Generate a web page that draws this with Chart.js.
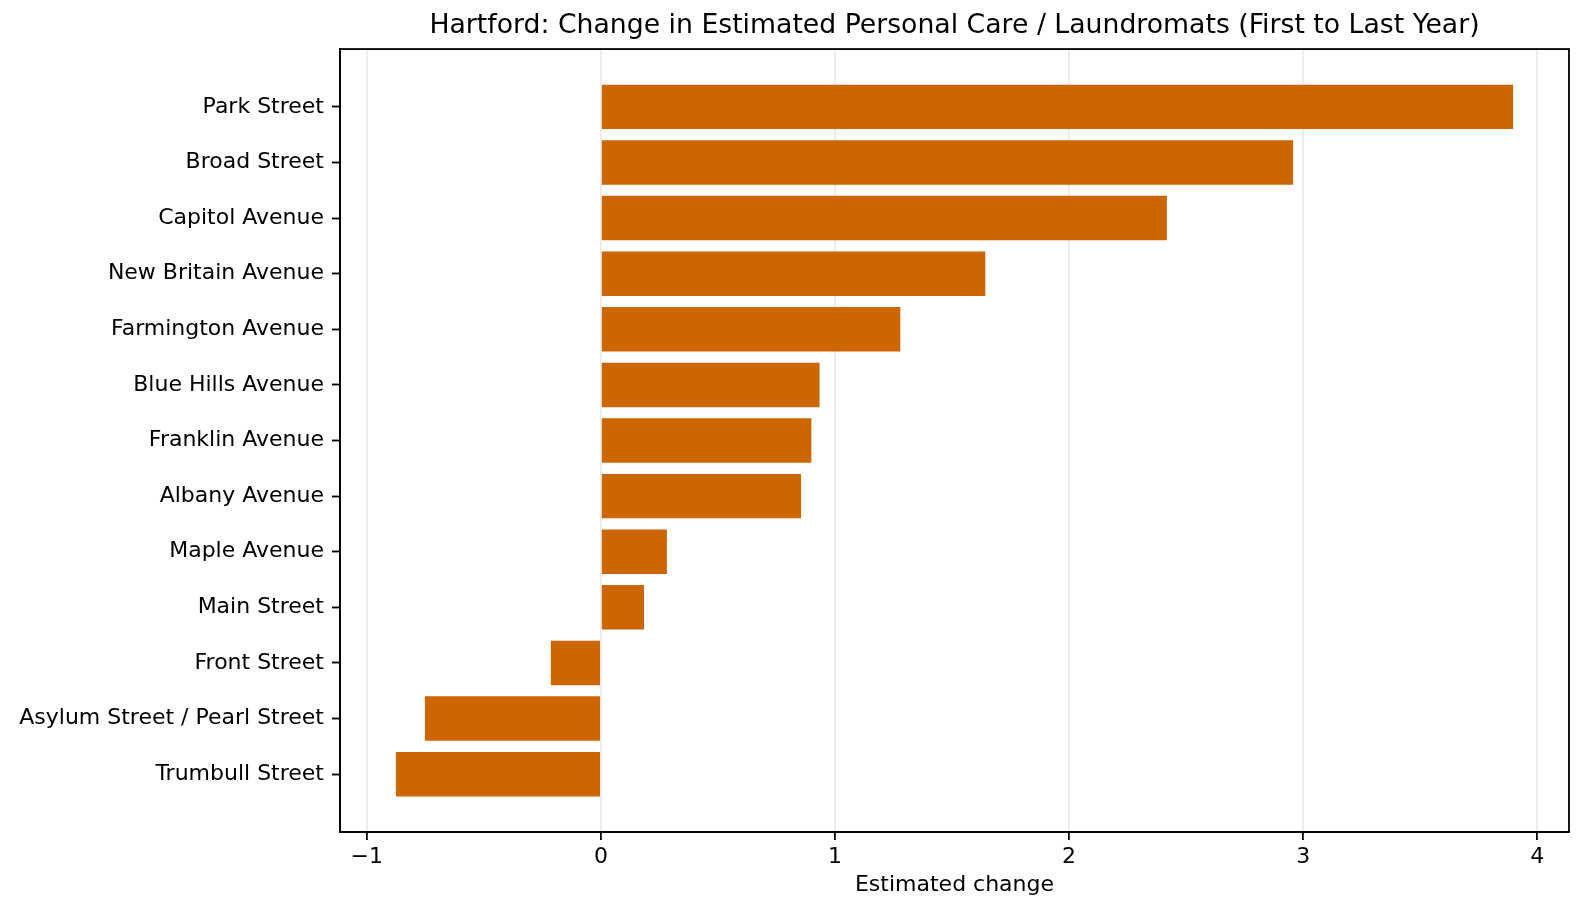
<!DOCTYPE html>
<html>
<head>
<meta charset="utf-8">
<script src="https://cdn.jsdelivr.net/npm/chart.js@4.4.1/dist/chart.umd.min.js"></script>
<style>
    html, body { margin: 0; padding: 0; background: #fff; }
    #wrap { width: 1585px; height: 912px; }
</style>
</head>
<body>
<div id="wrap"><canvas id="grafico"></canvas></div>
<script>
// streets, top to bottom
const streets = [
    'Park Street',
    'Broad Street',
    'Capitol Avenue',
    'New Britain Avenue',
    'Farmington Avenue',
    'Blue Hills Avenue',
    'Franklin Avenue',
    'Albany Avenue',
    'Maple Avenue',
    'Main Street',
    'Front Street',
    'Asylum Street / Pearl Street',
    'Trumbull Street',
];

// estimated change, first to last year
const changes = [3.897, 2.957, 2.418, 1.642, 1.279, 0.934, 0.899, 0.855, 0.282, 0.184, -0.214, -0.752, -0.876];

const xTicks = [-1, 0, 1, 2, 3, 4];

const fonte = 'DejaVu Sans';
Chart.defaults.color = '#000';
Chart.defaults.font.family = fonte;

// matplotlib style margins (5%)
const minV = Math.min(...changes, 0);
const maxV = Math.max(...changes, 0);
const margemX = (maxV - minV) * 0.05;
const margemY = (streets.length - 1 + 0.8) * 0.05;

const moldura = {
    id: 'moldura',
    afterDraw(chart) {
        const { ctx, chartArea } = chart;
        ctx.save();
        ctx.strokeStyle = '#000';
        ctx.lineWidth = 1.8;
        ctx.strokeRect(chartArea.left, chartArea.top, chartArea.right - chartArea.left, chartArea.bottom - chartArea.top);
        ctx.restore();
    }
};

const data = {
    datasets: [{
        data: changes.map((v, i) => ({ x: v, y: i })),
        backgroundColor: '#cc6600',
        borderWidth: 0,
        barPercentage: 0.8,
        categoryPercentage: 1.0,
    }]
};

const config = {
    type: 'bar',
    data: data,
    plugins: [moldura],
    options: {
        indexAxis: 'y',
        responsive: true,
        maintainAspectRatio: false,
        animation: false,
        layout: { padding: { top: 0, right: 16, bottom: 0, left: 0 } },
        plugins: {
            legend: { display: false },
            tooltip: { enabled: false },
            title: {
                display: true,
                fullSize: false,
                text: 'Hartford: Change in Estimated Personal Care / Laundromats (First to Last Year)',
                font: { size: 26.7, weight: 'normal', lineHeight: 1.2 },
                padding: { top: 10, bottom: 7 },
                color: '#000',
            },
        },
        scales: {
            x: {
                type: 'linear',
                min: minV - margemX,
                max: maxV + margemX,
                z: 1,
                afterBuildTicks: (scale) => { scale.ticks = xTicks.map(v => ({ value: v })); },
                afterFit: (scale) => { scale.height = 80; },
                ticks: {
                    font: { size: 22 },
                    padding: 4,
                    callback: (v) => String(v).replace('-', '\u2212'),
                },
                grid: {
                    color: 'rgba(176,176,176,0.25)',
                    lineWidth: 1.8,
                    tickColor: '#000',
                    tickWidth: 1.8,
                    tickLength: 8,
                },
                border: { color: '#000', width: 1.8 },
                title: {
                    display: true,
                    text: 'Estimated change',
                    font: { size: 22 },
                    padding: { top: 0, bottom: 14 },
                },
            },
            y: {
                type: 'linear',
                reverse: true,
                offset: false,
                min: -0.4 - margemY,
                max: streets.length - 1 + 0.4 + margemY,
                afterBuildTicks: (scale) => { scale.ticks = streets.map((s, i) => ({ value: i })); },
                afterFit: (scale) => { scale.width = 340; },
                ticks: {
                    font: { size: 22 },
                    padding: 8,
                    callback: (v) => streets[v],
                },
                grid: {
                    offset: false,
                    drawOnChartArea: false,
                    tickColor: '#000',
                    tickWidth: 1.8,
                    tickLength: 8,
                },
                border: { color: '#000', width: 1.8 },
            },
        },
    },
};

new Chart(document.getElementById('grafico'), config);
</script>
</body>
</html>
